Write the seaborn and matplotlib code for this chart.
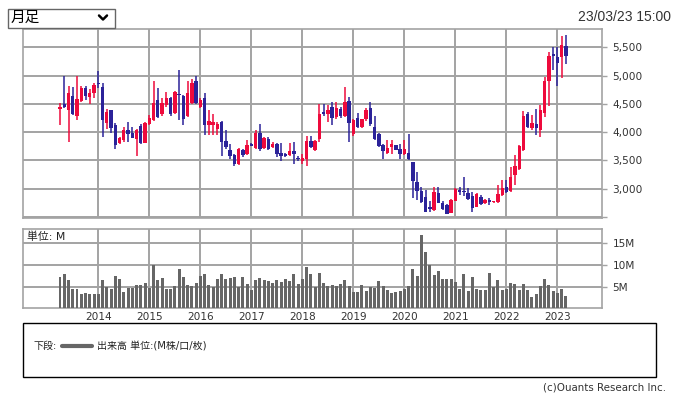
import numpy as np
import pandas as pd
import matplotlib
matplotlib.use("Agg")
import matplotlib.pyplot as plt
import seaborn as sns
from matplotlib.patches import Rectangle
from matplotlib.lines import Line2D

# ---------------- data (monthly, Apr 2013 .. Mar 2023) ----------------
months = pd.period_range("2013-04", "2023-03", freq="M")

opens = [4402, 4501, 4384, 4648, 4290, 4548, 4783, 4619, 4689, 4877,
         4806, 4161, 4384, 4120, 3809, 3868, 4032, 3985, 3874, 4102,
         3809, 4149, 4208, 4560, 4314, 4472, 4601, 4337, 4677, 4648,
         4279, 4513, 4912, 4443, 4601, 4132, 4120, 4050, 4179, 3838,
         3692, 3604, 3440, 3692, 3621, 3786, 3727, 3985, 3727, 3874,
         3739, 3797, 3639, 3610, 3592, 3662, 3551, 3492, 3533, 3838,
         3680, 3874, 4349, 4314, 4449, 4267, 4413, 4278, 4548, 3962,
         4255, 4091, 4226, 4419, 4091, 3962, 3768, 3633, 3739, 3768,
         3709, 3610, 3639, 3475, 3123, 2958, 2847, 2683, 2624, 2929,
         2753, 2712, 2577, 2788, 2976, 2958, 2929, 2870, 2683, 2859,
         2741, 2800, 2759, 2765, 2888, 3023, 2964, 3240, 3340, 3680,
         4325, 4073, 4149, 4032, 4343, 4900, 5387, 5323, 5323, 5516]
highs = [4519, 4988, 4824, 4806, 4988, 4812, 4824, 4759, 4871, 5088,
         4865, 4413, 4390, 4161, 3915, 4091, 4173, 4091, 4061, 4149,
         4179, 4296, 4912, 4783, 4601, 4718, 4619, 4736, 5106, 4660,
         4900, 4941, 5000, 4600, 4695, 4384, 4325, 4179, 4190, 4032,
         3797, 3620, 3720, 3710, 3856, 3800, 4044, 4138, 3915, 3921,
         3826, 3810, 3809, 3630, 3815, 3827, 3580, 3621, 3926, 3926,
         3856, 4490, 4501, 4484, 4525, 4525, 4440, 4806, 4619, 4230,
         4337, 4237, 4431, 4525, 4290, 3980, 3790, 3868, 3856, 3780,
         3797, 3856, 3962, 3480, 3299, 3035, 2976, 2788, 3023, 3035,
         2790, 2730, 2812, 3010, 3023, 3211, 3005, 2947, 2920, 2888,
         2810, 2830, 2780, 3064, 3152, 3152, 3387, 3592, 3770, 4372,
         4355, 4296, 4402, 4472, 4982, 5422, 5499, 5499, 5704, 5722]
lows = [4132, 4430, 3827, 4300, 4208, 4530, 4572, 4501, 4601, 4783,
        3915, 4061, 3985, 3709, 3797, 3827, 3827, 3890, 3574, 3790,
        3800, 4130, 4190, 4250, 4290, 4450, 4290, 4320, 4208, 4120,
        4260, 4500, 4490, 4420, 3944, 3944, 3944, 3944, 3580, 3700,
        3520, 3400, 3415, 3560, 3600, 3750, 3700, 3668, 3700, 3690,
        3720, 3563, 3492, 3560, 3570, 3445, 3486, 3445, 3404, 3720,
        3660, 3827, 4290, 4179, 4120, 4240, 4250, 4260, 3827, 3940,
        4080, 4070, 4200, 4110, 3860, 3740, 3522, 3610, 3610, 3680,
        3522, 3590, 3500, 2830, 2800, 2741, 2590, 2595, 2610, 2740,
        2620, 2545, 2565, 2780, 2888, 2870, 2800, 2595, 2670, 2710,
        2730, 2712, 2740, 2750, 2870, 2930, 2950, 3064, 3330, 3660,
        4070, 4032, 3956, 3915, 4267, 4460, 5100, 4824, 4953, 5205]
closes = [4443, 4443, 4689, 4314, 4578, 4783, 4636, 4689, 4842, 4859,
          4208, 4355, 4073, 3780, 3891, 4032, 3962, 3903, 4032, 3809,
          4161, 4249, 4513, 4267, 4519, 4601, 4314, 4707, 4654, 4226,
          4695, 4871, 4513, 4572, 4120, 4190, 4173, 4138, 3827, 3739,
          3574, 3434, 3710, 3592, 3768, 3762, 3985, 3710, 3891, 3703,
          3797, 3621, 3580, 3580, 3662, 3610, 3533, 3539, 3838, 3739,
          3838, 4314, 4314, 4396, 4255, 4431, 4278, 4542, 4161, 4208,
          4091, 4226, 4384, 4138, 3880, 3756, 3668, 3721, 3797, 3692,
          3610, 3698, 3522, 3140, 2964, 2770, 2595, 2636, 2947, 2753,
          2648, 2554, 2800, 2994, 2947, 2935, 2818, 2665, 2906, 2724,
          2800, 2771, 2771, 2906, 3005, 2947, 3199, 3398, 3750, 4278,
          4091, 4167, 4073, 4384, 4912, 5352, 5352, 5217, 5546, 5352]
volume_m = [7.3, 7.9, 6.5, 4.5, 4.5, 3.3, 3.6, 3.2, 3.4, 3.4,
            6.5, 4.9, 4.5, 7.5, 6.8, 3.8, 4.8, 4.8, 5.4, 5.4,
            5.8, 4.6, 10.0, 6.5, 7.1, 4.5, 4.5, 5.2, 9.2, 7.2,
            5.4, 5.2, 5.8, 7.5, 7.9, 5.4, 4.9, 6.8, 7.9, 6.8,
            7.1, 7.2, 4.9, 7.2, 5.7, 4.3, 6.5, 7.1, 6.6, 6.4,
            5.9, 6.5, 6.2, 6.8, 6.4, 7.9, 5.6, 6.8, 9.6, 7.9,
            4.9, 8.2, 5.9, 5.2, 5.4, 5.2, 5.6, 6.5, 5.2, 3.8,
            3.8, 5.4, 4.0, 4.9, 4.6, 6.3, 5.2, 4.2, 3.6, 3.8,
            4.0, 4.5, 5.2, 9.1, 7.5, 16.9, 13.1, 10.0, 7.7, 8.6,
            6.7, 6.8, 6.8, 6.2, 4.5, 7.9, 4.0, 7.2, 4.5, 4.2,
            4.2, 8.2, 4.9, 6.5, 4.2, 4.5, 5.9, 5.6, 4.2, 5.6,
            4.3, 2.7, 3.3, 5.2, 6.8, 5.4, 4.0, 3.6, 4.5, 2.9]

price_ticks = [2500, 3000, 3500, 4000, 4500, 5000, 5500]
volume_ticks = [5, 10, 15]

# ---------------- styling ----------------
sns.set_theme(style="white")
plt.rcParams['font.family'] = ['DejaVu Sans', 'Noto Sans CJK JP']

UP = "#ee0a3c"
DOWN = "#2b2299"
GRID = "#a3a3a3"
TXT = "#333333"

W, H = 677, 394
fig = plt.figure(figsize=(W / 100, H / 100), dpi=100)
fig.patch.set_facecolor("white")

def fx(x):
    return x / W

def fy(y):
    return 1 - y / H

df = pd.DataFrame({"idx": np.arange(len(months)), "open": opens, "high": highs,
                   "low": lows, "close": closes, "vol": volume_m})
df["up"] = df["close"] >= df["open"]
df["col"] = np.where(df["up"], UP, DOWN)

year_idx = [i for i, p in enumerate(months) if p.month == 1]
year_lab = [str(months[i].year) for i in year_idx]

L, R = 23.3, 602.3
x0 = -(60 - L) / 4.252
x1 = x0 + (R - L) / 4.252

def style_axes(ax):
    for s in ax.spines.values():
        s.set_color(GRID)
        s.set_linewidth(1.2)
    ax.set_facecolor("white")
    ax.grid(True, color=GRID, linewidth=1.4)
    ax.set_axisbelow(True)

# ---------------- price panel ----------------
ax1 = fig.add_axes([fx(L), fy(218.3), fx(R) - fx(L), fy(29) - fy(218.3)])
style_axes(ax1)
ax1.vlines(df["idx"], df["low"], df["high"], colors=df["col"], linewidth=1.1, zorder=3)
body_lo = np.minimum(df["open"], df["close"])
body_h = np.maximum(np.abs(df["close"] - df["open"]), 18)
ax1.bar(df["idx"], body_h, bottom=body_lo, width=0.8, color=df["col"],
        linewidth=0, zorder=4)
ax1.set_xlim(x0, x1)
ax1.set_ylim(2477, 5824)
ax1.set_xticks(year_idx)
ax1.set_xticklabels([])
ax1.tick_params(axis="x", length=0)
ax1.yaxis.tick_right()
ax1.set_yticks(price_ticks)
ax1.set_yticklabels(["" if v == 2500 else f"{v:,}" for v in price_ticks])
ax1.tick_params(axis="y", length=3.4, width=1, color=GRID, labelsize=7.6,
                labelcolor=TXT, pad=4)
ax1.set_xlabel("")
ax1.set_ylabel("")

# ---------------- volume panel ----------------
ax2 = fig.add_axes([fx(L), fy(308.3), fx(R) - fx(L), fy(229) - fy(308.3)])
style_axes(ax2)
sns.barplot(data=df, x="idx", y="vol", native_scale=True, color="#666666",
            saturation=1, width=0.7, linewidth=0, errorbar=None, ax=ax2, zorder=3)
ax2.set_xlim(x0, x1)
ax2.set_ylim(0, 18.35)
ax2.set_xticks(year_idx)
ax2.set_xticklabels(year_lab)
ax2.tick_params(axis="x", length=0, labelsize=7.6, labelcolor=TXT, pad=2.5)
ax2.yaxis.tick_right()
ax2.set_yticks(volume_ticks)
ax2.set_yticklabels([f"{v}M" for v in volume_ticks])
ax2.tick_params(axis="y", length=3.4, width=1, color=GRID, labelsize=7.6,
                labelcolor=TXT, pad=4)
ax2.set_xlabel("")
ax2.set_ylabel("")
ax2.text(0.006, 0.9, "単位: M", transform=ax2.transAxes, ha="left", va="center",
         fontsize=7.8, color="#222222")

# ---------------- header ----------------
fig.add_artist(Rectangle((fx(7.5), fy(27.5)), fx(115) - fx(7.5), fy(8.5) - fy(27.5),
                         transform=fig.transFigure, fill=False, edgecolor="#666666",
                         linewidth=1))
fig.text(fx(11), fy(18), "月足", ha="left", va="center", fontsize=10.5,
         color="black", family=["Noto Sans CJK JP", "DejaVu Sans"])
fig.add_artist(Line2D([fx(99), fx(103), fx(107)], [fy(15.5), fy(19.5), fy(15.5)],
                      transform=fig.transFigure, color="black", linewidth=1.8))
fig.text(fx(671), fy(17), "23/03/23 15:00", ha="right", va="center", fontsize=10,
         color=TXT, family=["Liberation Sans", "DejaVu Sans"])

# ---------------- legend box ----------------
fig.add_artist(Rectangle((fx(22.7), fy(376.5)), fx(655.7) - fx(22.7), fy(323) - fy(376.5),
                         transform=fig.transFigure, fill=False, edgecolor="black",
                         linewidth=1))
fig.text(fx(33), fy(346), "下段:", ha="left", va="center", fontsize=7.2, color="#222222")
fig.add_artist(Line2D([fx(62), fx(92)], [fy(346), fy(346)], transform=fig.transFigure,
                      color="#666666", linewidth=3))
fig.text(fx(97), fy(346), "出来高 単位:(M株/口/枚)", ha="left", va="center",
         fontsize=7.2, color="#222222")
fig.text(fx(666), fy(387), "(c)Ouants Research Inc.", ha="right", va="center",
         fontsize=7.4, color=TXT)

fig.savefig("out.png", dpi=100)
